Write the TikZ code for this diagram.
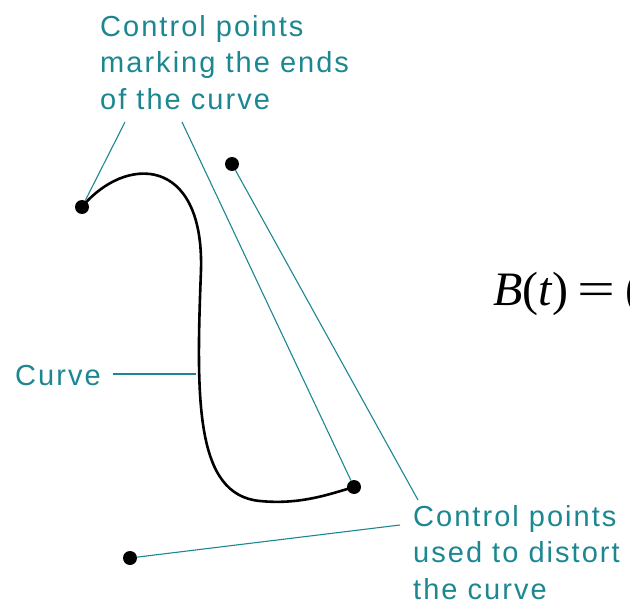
\documentclass[tikz,border=0pt]{standalone}
\usepackage{fontspec}
\usepackage{graphicx}
\setmainfont{Liberation Sans}
\newfontfamily\labfont[LetterSpace=7]{Liberation Sans}
\newfontfamily\formfont{Liberation Serif}
\definecolor{labteal}{RGB}{28,135,145}
\begin{document}
\begin{tikzpicture}[x=1pt,y=-1pt,
  lab/.style={font=\labfont\fontsize{29}{36.5}\selectfont, text=labteal, inner sep=0pt, align=left},
  leader/.style={draw=labteal, line width=1.1pt},
  dot/.style={circle, fill=black, minimum size=14pt, inner sep=0pt},
  curveline/.style={line width=2.6pt, black}]
\useasboundingbox (0,0) rectangle (630,610);
\clip (0,0) rectangle (630,610);
% labels
\node[lab, anchor=north west] (top) at (100,15) {Control points\\marking the ends\\of the curve};
\node[lab, anchor=base west] (cv) at (15,385) {Curve};
\node[lab, anchor=north west] (bot) at (413,505) {Control points\\used to distort\\the curve};
% control points
\node[dot] (P0) at (82,207) {};
\node[dot] (P1) at (232,164) {};
\node[dot] (P3) at (354,487) {};
\node[dot] (P2) at (130,558) {};
% curve
\draw[curveline] (P0.center) .. controls (125,155) and (204,155) .. (201,270)
  .. controls (196,400) and (195,495) .. (260,501)
  .. controls (300,505) and (330,494) .. (P3.center);
% leader end points
\coordinate (t1) at (125,122);
\coordinate (t2) at (182,122);
\coordinate (c1) at (113,374);
\coordinate (c2) at (196,374);
\coordinate (b1) at (418,500);
\coordinate (b2) at (400,525);
\draw[leader] (t1) -- (P0);
\draw[leader] (t2) -- (P3);
\draw[leader] (c1) -- (c2);
\draw[leader] (P1) -- (b1);
\draw[leader] (P2) -- (b2);
% formula
\node[anchor=base west, inner sep=0pt, font=\formfont\fontsize{48}{48}\selectfont] (form) at (493,305)
  {\textit{B}(\textit{t})\hspace{9pt}\scalebox{1.4}[1]{=}\hspace{10pt}(};
\end{tikzpicture}
\end{document}
